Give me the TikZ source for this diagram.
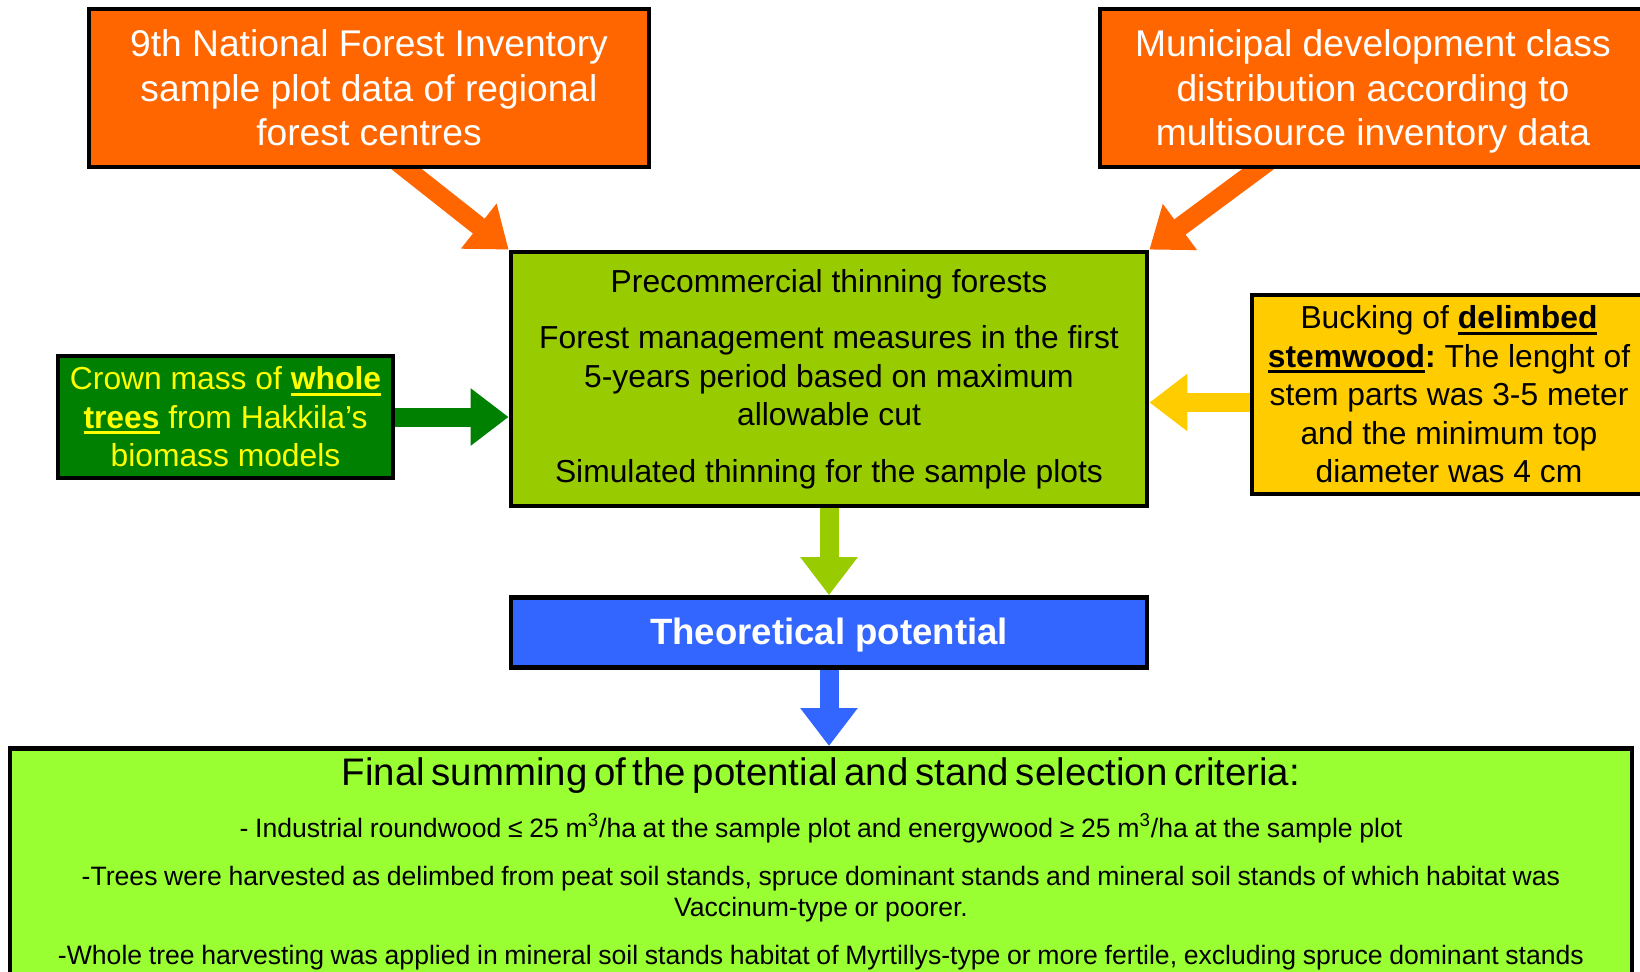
\documentclass[tikz,border=0pt]{standalone}
\usepackage{fontspec}
\setmainfont{Liberation Sans}
\usepackage{tikz}
\usetikzlibrary{arrows.meta}
\pgfdeclarelayer{nodelayer}
\pgfdeclarelayer{edgelayer}
\pgfsetlayers{edgelayer,nodelayer,main}
\frenchspacing

\definecolor{inventoryorange}{HTML}{FF6600}
\definecolor{thinninggreen}{HTML}{99CC00}
\definecolor{crowngreen}{HTML}{008000}
\definecolor{crowntext}{HTML}{FFFF00}
\definecolor{buckingyellow}{HTML}{FFCC00}
\definecolor{potentialblue}{HTML}{3366FF}
\definecolor{summinggreen}{HTML}{99FF33}

\newcommand{\undl}[1]{\vtop{\hbox{#1}\kern1.4pt\hrule height 1.3pt}}

\begin{document}
\begin{tikzpicture}[x=0.5pt, y=-0.5pt,
  box/.style={draw=black, line width=2.4pt, align=center, inner sep=3pt},
  bigtext/.style={font=\fontsize{18.6pt}{22.25pt}\selectfont, text depth=0pt},
  midtext/.style={font=\fontsize{15.9pt}{19.25pt}\selectfont},
  flow/.style={line width=9.5pt, -{Triangle[length=19pt, width=27.5pt]}}]
  \useasboundingbox (0,0) rectangle (1640,971);
  \begin{pgfonlayer}{nodelayer}
    \node [box, bigtext, fill=inventoryorange, text=white, minimum width=280pt, minimum height=79pt] (nfi) at (369, 88) {9th National Forest Inventory\\sample plot data of regional\\forest centres};
    \node [box, bigtext, fill=inventoryorange, text=white, minimum width=273pt, minimum height=79pt] (mun) at (1373, 88) {Municipal development class\\distribution according to\\multisource inventory data};
    \node [box, midtext, fill=thinninggreen, minimum width=318pt, minimum height=127pt] (centre) at (829, 379) {Precommercial thinning forests\\[9pt]Forest management measures in the first\\5-years period based on maximum\\allowable cut\\[9pt]Simulated thinning for the sample plots};
    \node [box, midtext, fill=crowngreen, text=crowntext, minimum width=167.5pt, minimum height=61pt] (crown) at (225.5, 417) {Crown mass of \textbf{\undl{whole}}\\\textbf{\undl{trees}} from Hakkila’s\\biomass models};
    \node [box, midtext, fill=buckingyellow, minimum width=197pt, minimum height=99.5pt] (bucking) at (1449, 394.5) {Bucking of \textbf{\undl{delimbed}}\\\textbf{\undl{stemwood}:} The lenght of\\stem parts was 3-5 meter\\and the minimum top\\diameter was 4 cm};
    \node [box, font=\fontsize{18.3pt}{22pt}\selectfont\bfseries, fill=potentialblue, text=white, text depth=1pt, minimum width=318pt, minimum height=35pt] (theo) at (829, 632.5) {Theoretical potential};
    \node [box, fill=summinggreen, anchor=north, text width=805pt, inner xsep=3pt, inner ysep=4.8pt, text depth=150pt] (final) at (821, 746) {%
      {\fontsize{19.2pt}{22pt}\selectfont Final summing of the potential and stand selection criteria:\par}
      \vspace{9pt}
      \fontsize{13.3pt}{15.5pt}\selectfont
      - Industrial roundwood ≤ 25 m\textsuperscript{3}/ha at the sample plot and energywood ≥ 25 m\textsuperscript{3}/ha at the sample plot\par
      \vspace{8.5pt}
      -Trees were harvested as delimbed from peat soil stands, spruce dominant stands and mineral soil stands of which habitat was\\Vaccinum-type or poorer.\par
      \vspace{8.5pt}
      -Whole tree harvesting was applied in mineral soil stands habitat of Myrtillys-type or more fertile, excluding spruce dominant stands\par};
  \end{pgfonlayer}
  \begin{pgfonlayer}{edgelayer}
    \draw [flow, inventoryorange] ([xshift=147.5pt, yshift=10pt]nfi.south west) to (centre.north west);
    \draw [flow, inventoryorange] ([xshift=93.5pt, yshift=10pt]mun.south west) to (centre.north east);
    \draw [flow, crowngreen] (crown.east) to (crown.east -| centre.west);
    \draw [flow, buckingyellow] ([yshift=-4pt]bucking.west) to ([yshift=-4pt]bucking.west -| centre.east);
    \draw [flow, thinninggreen] (centre.south) to (theo.north);
    \draw [flow, potentialblue] (theo.south) to (theo.south |- final.north);
  \end{pgfonlayer}
\end{tikzpicture}
\end{document}
